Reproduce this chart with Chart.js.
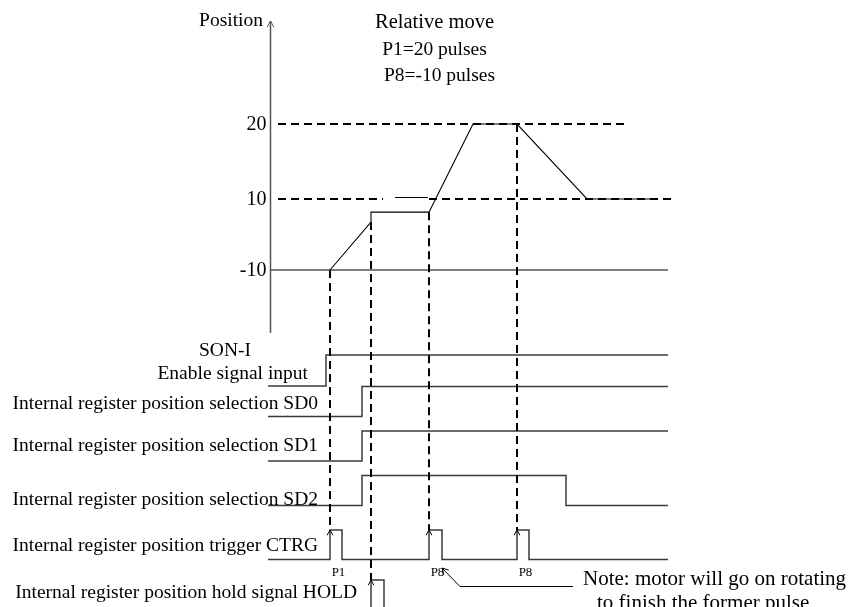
<!DOCTYPE html>
<html>
<head>
<meta charset="utf-8">
<script src="https://cdn.jsdelivr.net/npm/chart.js@4.4.1/dist/chart.umd.min.js"></script>
<style>
  html, body { margin: 0; padding: 0; background: #fff; }
</style>
</head>
<body>
<canvas id="timingChart" width="856" height="607"></canvas>
<script>
// time axis in arbitrary units, 0 = position axis
var tStart = -2, tEnd = 398;

// position trace: relative move P1=20 pulses, then P8=-10 pulses
var posTime  = [60, 101, 101, 159, 203, 247, 317, 380];
var posValue = [-10, 3.5, 6.3, 6.3, 20, 20, 10, 10];
var posTicks = [20, 10, -10];

// guide lines in the position plot
var guideLevel  = [20, 10, 10, -10, 10.2];
var guideFrom   = [8, 8, 159, 0, 125];
var guideTo     = [357, 113, 402, 398, 158];
var guideDashed = [true, true, true, false, false];

// digital signals: edge times and level after each edge
var signalNames = ['SON-I', 'SD0', 'SD1', 'SD2', 'CTRG', 'HOLD'];
var signalTimes = [
  [tStart, 56, tEnd],
  [tStart, 92, tEnd],
  [tStart, 92, tEnd],
  [tStart, 92, 296, tEnd],
  [tStart, 60, 72, 159, 172, 247, 259, tEnd],
  [tStart, 101, 114, tEnd]
];
var signalLevels = [
  [0, 1, 1],
  [0, 1, 1],
  [0, 1, 1],
  [0, 1, 0, 0],
  [0, 1, 0, 1, 0, 1, 0, 0],
  [0, 1, 0, 0]
];
var signalLabels = [
  'Enable signal input',
  'Internal register position selection SD0',
  'Internal register position selection SD1',
  'Internal register position selection SD2',
  'Internal register position trigger CTRG',
  'Internal register position hold signal HOLD'
];

// trigger events: dashed guides from the trace down to the pulses
var eventTime   = [60, 101, 159, 247];
var eventPos    = [-10, 3.5, 6.3, 20];
var eventSignal = [4, 5, 4, 4];
var eventLabels = ['P1', '', 'P8', 'P8'];

// lane layout (rows) for the signal part
var laneRow  = [386, 416.5, 461, 505.5, 559.5, 612];
var laneHigh = [31, 30, 30, 30, 29.5, 32];

var FONT = '"Liberation Serif", "Times New Roman", serif';

// position axis is not drawn to scale: piecewise between the tick levels
class BrokenScale extends Chart.LinearScale {
  getPixelForValue(value) {
    var stops = this.options.stops;
    var a = stops[0], b = stops[1];
    for (var i = 1; i < stops.length; i++) {
      a = stops[i - 1]; b = stops[i];
      if (value <= b[0]) break;
    }
    var row = a[1] + (value - a[0]) / (b[0] - a[0]) * (b[1] - a[1]);
    return this.chart.scales.ySig.getPixelForValue(row);
  }
}
BrokenScale.id = 'broken';
BrokenScale.defaults = {};
Chart.register(BrokenScale);

var datasets = [];

// trace
datasets.push({
  data: posTime.map(function(t, i) { return { x: t, y: posValue[i] }; }),
  yAxisID: 'yPos', borderColor: '#000', borderWidth: 1.1
});

// guides
guideLevel.forEach(function(v, i) {
  datasets.push({
    data: [{ x: guideFrom[i], y: v }, { x: guideTo[i], y: v }],
    yAxisID: 'yPos', borderColor: '#000',
    borderWidth: guideDashed[i] ? 2 : 1.1,
    borderDash: guideDashed[i] ? [8, 5] : []
  });
});

// signals
signalNames.forEach(function(name, s) {
  datasets.push({
    data: signalTimes[s].map(function(t, i) {
      return { x: t, y: laneRow[s] - signalLevels[s][i] * laneHigh[s] };
    }),
    yAxisID: 'ySig', stepped: 'before', borderColor: '#3a3a3a', borderWidth: 1.5
  });
});

function arrowHead(ctx, x, y, dx, dy, len) {
  var a = Math.atan2(dy, dx);
  ctx.beginPath();
  ctx.moveTo(x - len * Math.cos(a - 0.5), y - len * Math.sin(a - 0.5));
  ctx.lineTo(x, y);
  ctx.lineTo(x - len * Math.cos(a + 0.5), y - len * Math.sin(a + 0.5));
  ctx.stroke();
}

function text(ctx, str, x, y, size, align) {
  ctx.font = size + 'px ' + FONT;
  ctx.textAlign = align || 'left';
  ctx.fillText(str, x, y);
}

var overlay = {
  id: 'overlay',
  afterDatasetsDraw: function(chart) {
    var ctx = chart.ctx;
    var xs = chart.scales.x, yP = chart.scales.yPos, yS = chart.scales.ySig;
    var X = function(t) { return xs.getPixelForValue(t); };
    var R = function(r) { return yS.getPixelForValue(r); };
    ctx.save();
    ctx.fillStyle = '#000';
    ctx.textBaseline = 'alphabetic';

    // position axis with arrow
    ctx.strokeStyle = '#555';
    ctx.lineWidth = 1.5;
    ctx.beginPath();
    ctx.moveTo(X(0.5), R(21));
    ctx.lineTo(X(0.5), R(333));
    ctx.stroke();
    ctx.lineWidth = 1;
    arrowHead(ctx, X(0.5), R(21), 0, -1, 7);

    // event guides and pulse arrows
    ctx.strokeStyle = '#000';
    eventTime.forEach(function(t, i) {
      var s = eventSignal[i];
      var top = R(laneRow[s] - laneHigh[s]);
      ctx.lineWidth = 2;
      ctx.setLineDash([8, 5]);
      ctx.beginPath();
      ctx.moveTo(X(t), yP.getPixelForValue(eventPos[i]));
      ctx.lineTo(X(t), top);
      ctx.stroke();
      ctx.setLineDash([]);
      ctx.lineWidth = 1;
      arrowHead(ctx, X(t), top, 0, -1, 6);
      if (eventLabels[i]) text(ctx, eventLabels[i], X(t + 8.5), R(576), 13, 'center');
    });

    // note arrow
    ctx.lineWidth = 1;
    ctx.beginPath();
    ctx.moveTo(X(303), R(586.5));
    ctx.lineTo(X(190), R(586.5));
    ctx.lineTo(X(172), R(568));
    ctx.stroke();
    arrowHead(ctx, X(172), R(568), -18, -18.5, 7);

    // titles
    text(ctx, 'Position', X(-7), R(26), 19.5, 'right');
    text(ctx, 'Relative move', X(164.5), R(28), 20.5, 'center');
    text(ctx, 'P1=20 pulses', X(164.5), R(55), 19.5, 'center');
    text(ctx, 'P8=-10 pulses', X(169.5), R(81), 19.5, 'center');

    // tick labels
    ctx.textBaseline = 'middle';
    posTicks.forEach(function(v) {
      text(ctx, String(v), X(-3.5), yP.getPixelForValue(v) + 1, 20, 'right');
    });
    ctx.textBaseline = 'alphabetic';

    // signal labels
    text(ctx, signalNames[0], X(-45), R(356), 19.5, 'center');
    text(ctx, signalLabels[0], X(38), R(379), 19.5, 'right');
    text(ctx, signalLabels[1], X(48), R(409), 19.5, 'right');
    text(ctx, signalLabels[2], X(48), R(451), 19.5, 'right');
    text(ctx, signalLabels[3], X(48), R(505), 19.5, 'right');
    text(ctx, signalLabels[4], X(48), R(551), 19.5, 'right');
    text(ctx, signalLabels[5], X(87), R(598), 19.5, 'right');

    // note
    text(ctx, 'Note: motor will go on rotating', X(313), R(585), 21, 'left');
    text(ctx, 'to finish the former pulse', X(327), R(609), 21, 'left');
    ctx.restore();
  }
};

new Chart(document.getElementById('timingChart'), {
  type: 'scatter',
  data: { datasets: datasets },
  options: {
    responsive: false,
    animation: false,
    events: [],
    layout: { padding: 0 },
    datasets: { scatter: { showLine: true, pointRadius: 0, fill: false } },
    scales: {
      x: { type: 'linear', display: false, min: -270, max: 586 },
      ySig: { type: 'linear', display: false, min: 0, max: 607, reverse: true },
      yPos: {
        type: 'broken', display: false, min: -20, max: 30,
        stops: [[-10, 270], [10, 199], [20, 124]]
      }
    },
    plugins: { legend: { display: false }, tooltip: { enabled: false } }
  },
  plugins: [overlay]
});
</script>
</body>
</html>
